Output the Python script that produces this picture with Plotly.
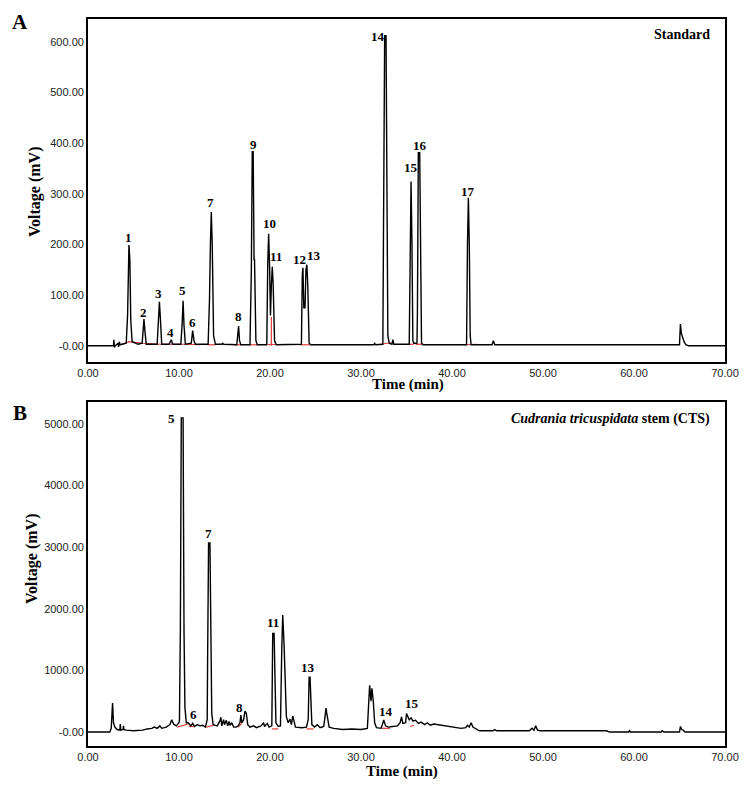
import plotly.graph_objects as go

# ---------------- Panel A : Standard ----------------
time_a = [0, 2.8, 2.85, 2.9, 3.0, 3.3, 3.35, 3.45, 3.5, 3.8, 4.2, 4.35, 4.5, 4.6, 4.7, 4.85, 5.5,
          5.95, 6.05, 6.15, 6.25, 6.4, 7.6, 7.75, 7.85, 7.95, 8.1, 8.9, 9.05, 9.15, 9.3,
          10.2, 10.35, 10.45, 10.55, 10.7, 11.35, 11.5, 11.65, 11.8,
          13.2, 13.35, 13.45, 13.55, 13.65, 13.8, 14.0, 14.7, 14.8, 14.9,
          16.35, 16.45, 16.55, 16.65, 16.8, 17.8, 17.95, 18.05, 18.15, 18.25, 18.3, 18.45, 18.6,
          19.6, 19.65, 19.75, 19.85, 19.95, 20.05, 20.15, 20.25, 20.35, 20.5, 20.7,
          23.45, 23.55, 23.62, 23.72, 23.85, 23.95, 24.05, 24.15, 24.3, 24.5,
          31.4, 31.5, 31.6, 32.4, 32.5, 32.6, 32.75, 32.85, 32.95, 33.1, 33.4, 33.5, 33.6,
          35.3, 35.4, 35.5, 35.6, 35.7, 35.8, 36.15, 36.2, 36.3, 36.45, 36.55, 36.65, 36.8,
          41.6, 41.7, 41.8, 41.9, 42.0, 42.1, 44.4, 44.55, 44.7,
          65.0, 65.1, 65.2, 65.35, 65.5, 65.7, 66.0, 70.0]
volt_a = [0, 0, 12, -3, 0, 5, -2, 8, 2, 3, 5, 60, 199, 170, 50, 8, 3,
          5, 40, 53, 30, 3, 3, 60, 87, 55, 3, 3, 10, 12, 3,
          3, 45, 89, 40, 3, 5, 30, 10, 3,
          3, 90, 200, 264, 200, 20, 3, 3, 5, 3,
          2, 30, 39, 10, 2, 2, 150, 383, 383, 170, 170, 10, 2,
          2, 5, 160, 221, 160, 60, 120, 156, 120, 10, 2,
          3, 140, 154, 75, 75, 150, 160, 120, 5, 2,
          2, 5, 2, 3, 400, 612, 612, 400, 20, 5, 3, 12, 3,
          3, 200, 324, 200, 10, 5, 5, 65, 381, 381, 65, 5, 2,
          2, 200, 292, 200, 20, 2, 2, 10, 2,
          2, 43, 25, 15, 8, 2, 0, 0]

# integration baselines (red)
red_a_t = [3.6, 4.5, 6.0, 8.0, 10.5, 12.3, None, 13.1, 14.0, None, 16.0, 17.0, None,
           17.7, 18.7, None, 19.5, 20.15, 20.8, None, 20.15, 20.15, None, 23.3, 24.6, None,
           32.1, 33.3, None, 35.1, 35.8, None, 36.0, 36.9, None, 41.3, 42.7]
red_a_v = [2, 8, 5, 3, 3, 2, None, 2, 2, None, 2, 2, None,
           2, 2, None, 2, 3, 2, None, 0, 57, None, 2, 2, None,
           3, 6, None, 3, 3, None, 3, 3, None, 2, 3]

labels_a = ["1", "2", "3", "4", "5", "6", "7", "8", "9", "10", "11", "12", "13", "14", "15", "16", "17"]
label_t_a = [4.5, 6.05, 7.8, 9.1, 10.4, 11.5, 13.5, 16.5, 18.2, 19.9, 20.7, 23.2, 24.8, 31.9, 35.5, 36.5, 41.8]
label_v_a = [213, 65, 103, 26, 109, 45, 282, 57, 397, 241, 176, 170, 178, 610, 351, 395, 304]

# ---------------- Panel B : CTS ----------------
time_b = [0, 2.4, 2.55, 2.7, 2.8, 2.95, 3.2, 3.5, 3.55, 3.6, 3.85, 3.9, 3.95, 4.2,
          5.0, 6.0, 6.5, 7.0, 7.3, 7.6, 7.9, 8.1, 8.6, 9.0, 9.2, 9.4, 9.7, 10.0,
          10.05, 10.15, 10.25, 10.45, 10.55, 10.65, 10.8,
          11.0, 11.3, 11.5, 11.7, 12.0, 12.3, 12.6, 12.9,
          13.1, 13.15, 13.25, 13.4, 13.5, 13.6, 13.75,
          14.2, 14.5, 14.6, 14.7, 14.9, 15.0, 15.2, 15.35, 15.5, 15.6, 15.8, 16.0, 16.3, 16.5,
          16.7, 16.8, 16.9, 17.1, 17.25, 17.4, 17.55, 17.8, 18.2, 18.5, 19.0, 19.3, 19.4, 19.7, 19.9, 20.2,
          20.3, 20.45, 20.55, 20.65, 20.9, 21.15,
          21.3, 21.4, 21.55, 21.7, 21.8, 22.0, 22.2, 22.35, 22.5, 22.6, 22.8, 23.5, 24.0,
          24.2, 24.3, 24.4, 24.5, 24.6, 24.9, 25.2, 25.5, 25.9,
          26.05, 26.15, 26.3, 26.5, 27.0, 28.0, 29.0, 30.0, 30.7,
          30.85, 30.95, 31.1, 31.2, 31.35, 31.5, 31.7, 32.2,
          32.35, 32.5, 32.7, 33.0, 33.5, 34.0, 34.3, 34.45, 34.6, 34.9, 35.0, 35.15, 35.3, 35.5,
          35.7, 36.0, 36.3, 36.6, 37.0, 37.3, 37.6, 38.0, 38.5, 39.0, 40.0, 41.0, 41.5, 41.7,
          41.9, 42.1, 42.3, 42.6, 43.0, 44.5, 44.7, 44.9, 48.5, 48.8, 49.0, 49.2, 49.4, 49.7,
          57.0, 57.3, 59.4, 59.5, 59.6, 63.0, 63.1, 63.3, 65.0, 65.1, 65.25, 65.4, 65.6, 70.0]
volt_b = [0, 0, 60, 470, 150, 80, 40, 30, 130, 30, 40, 100, 40, 30,
          20, 30, 50, 60, 80, 60, 100, 60, 80, 120, 200, 130, 100, 150,
          200, 1650, 5100, 5100, 1650, 400, 150,
          150, 100, 140, 90, 120, 100, 110, 80,
          200, 1300, 3070, 3070, 1300, 300, 120,
          100, 180, 240, 100, 200, 120, 190, 100, 170, 110, 150, 80, 80, 100,
          150, 275, 150, 200, 340, 300, 120, 80, 100, 70, 100, 150, 90, 140, 80, 100,
          1600, 1600, 900, 150, 90, 100,
          1400, 1900, 1400, 700, 250, 150, 210, 120, 260, 200, 80, 70, 80,
          200, 890, 890, 400, 120, 80, 120, 70, 90,
          250, 390, 250, 80, 60, 40, 50, 40, 60,
          500, 760, 500, 710, 500, 150, 70, 60,
          120, 195, 100, 80, 90, 100, 150, 245, 140, 150, 300, 250, 200, 230,
          180, 190, 140, 160, 120, 150, 110, 130, 120, 100, 90, 60, 70, 110,
          80, 150, 80, 50, 20, 20, 40, 20, 20, 60, 30, 100, 30, 20,
          20, 0, 0, 20, 0, 0, 20, 0, 0, 90, 40, 30, 0, 0]

red_b_t = [9.8, 11.0, None, 11.1, 11.7, None, 13.0, 13.8, None, 16.5, 16.9, None,
           20.2, 20.9, None, 24.0, 24.8, None, 32.3, 33.2, None, 35.4, 35.8]
red_b_v = [80, 130, None, 90, 90, None, 80, 110, None, 80, 140, None,
           50, 50, None, 50, 50, None, 60, 60, None, 90, 110]

labels_b = ["5", "6", "7", "8", "11", "13", "14", "15"]
label_t_b = [9.2, 11.6, 13.2, 16.6, 20.3, 24.2, 32.7, 35.6]
label_v_b = [5097, 292, 3230, 406, 1770, 1055, 325, 455]

# ---------------- axis ticks ----------------
x_ticks = [0, 10, 20, 30, 40, 50, 60, 70]
x_ticktext = ["0.00", "10.00", "20.00", "30.00", "40.00", "50.00", "60.00", "70.00"]
ya_ticks = [0, 100, 200, 300, 400, 500, 600]
ya_ticktext = ["-0.00", "100.00", "200.00", "300.00", "400.00", "500.00", "600.00"]
yb_ticks = [0, 1000, 2000, 3000, 4000, 5000]
yb_ticktext = ["-0.00", "1000.00", "2000.00", "3000.00", "4000.00", "5000.00"]

# page body has an 8px default margin -> figure is 8px smaller and offset
OFF = 8
W, H = 756 - OFF, 786 - OFF
def px(x):
    return (x - OFF) / W
def py(y):
    return 1 - (y - OFF) / H

fig = go.Figure()
fig.add_trace(go.Scatter(x=red_a_t, y=red_a_v, mode="lines", line=dict(color="#e23a3a", width=1.2),
                         xaxis="x", yaxis="y", hoverinfo="skip", showlegend=False))
fig.add_trace(go.Scatter(x=time_a, y=volt_a, mode="lines", line=dict(color="black", width=1.4),
                         xaxis="x", yaxis="y", showlegend=False))
fig.add_trace(go.Scatter(x=red_b_t, y=red_b_v, mode="lines", line=dict(color="#e23a3a", width=1.2),
                         xaxis="x2", yaxis="y2", hoverinfo="skip", showlegend=False))
fig.add_trace(go.Scatter(x=time_b, y=volt_b, mode="lines", line=dict(color="black", width=1.4),
                         xaxis="x2", yaxis="y2", showlegend=False))

tickfont = dict(family="Liberation Sans, Arial, sans-serif", size=11, color="#222")
axis_common = dict(showline=True, linecolor="black", linewidth=1.8, mirror=True, ticks="",
                   showgrid=False, zeroline=False, tickfont=tickfont, automargin=False)

xdom = [px(88), px(725)]
fig.update_layout(
    width=W, height=H, margin=dict(l=0, r=0, t=0, b=0, autoexpand=False),
    paper_bgcolor="white", plot_bgcolor="white",
    xaxis=dict(domain=xdom, range=[0, 70], tickvals=x_ticks, ticktext=x_ticktext, anchor="y", **axis_common),
    yaxis=dict(domain=[py(362), py(19)], range=[-32, 645], tickvals=ya_ticks, ticktext=ya_ticktext,
               anchor="x", **axis_common),
    xaxis2=dict(domain=xdom, range=[0, 70], tickvals=x_ticks, ticktext=x_ticktext, anchor="y2", **axis_common),
    yaxis2=dict(domain=[py(746), py(402)], range=[-227, 5357], tickvals=yb_ticks, ticktext=yb_ticktext,
                anchor="x2", **axis_common),
)

serif = "Liberation Serif, Times New Roman, serif"
ann = []
for lab, t, v in zip(labels_a, label_t_a, label_v_a):
    ann.append(dict(x=t, y=v, xref="x", yref="y", text=f"<b>{lab}</b>", showarrow=False,
                    font=dict(family=serif, size=13, color="black")))
for lab, t, v in zip(labels_b, label_t_b, label_v_b):
    ann.append(dict(x=t, y=v, xref="x2", yref="y2", text=f"<b>{lab}</b>", showarrow=False,
                    font=dict(family=serif, size=13, color="black")))

def paper_text(text, x, y, size, xanchor="center", angle=0):
    return dict(x=px(x), y=py(y), xref="paper", yref="paper", text=text, showarrow=False,
                xanchor=xanchor, yanchor="middle", textangle=angle,
                font=dict(family=serif, size=size, color="black"))

ann += [
    paper_text("<b>A</b>", 20, 22, 21),
    paper_text("<b>B</b>", 20, 413, 21),
    paper_text("<b>Voltage (mV)</b>", 35, 192, 16, angle=-90),
    paper_text("<b>Voltage (mV)</b>", 32, 559, 16, angle=-90),
    paper_text("<b>Time (min)</b>", 408, 384, 15),
    paper_text("<b>Time (min)</b>", 402, 771, 15),
    paper_text("<b>Standard</b>", 712, 35, 14, xanchor="right"),
    paper_text("<b><i>Cudrania tricuspidata</i> stem (CTS)</b>", 712, 419, 14, xanchor="right"),
]
fig.update_layout(annotations=ann)

fig.write_html("out.html")
